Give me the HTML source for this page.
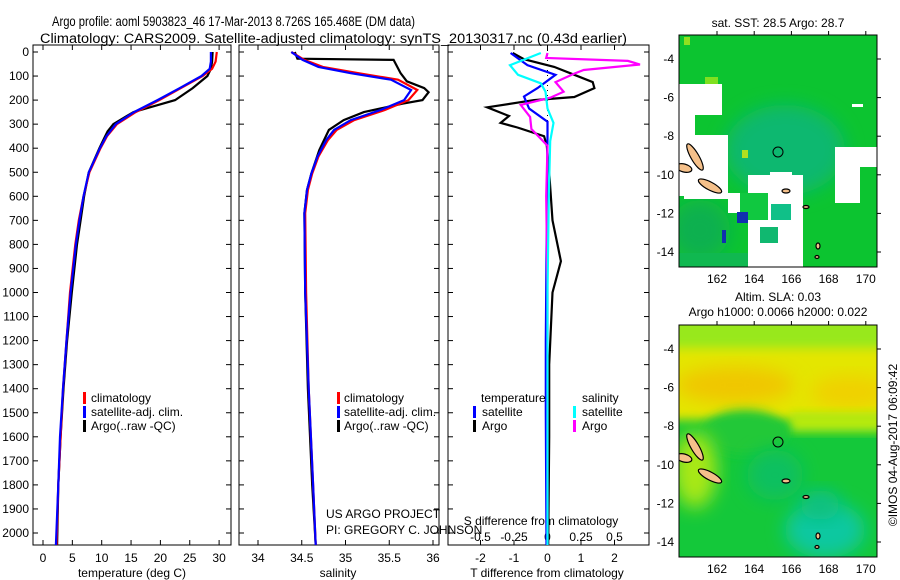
<!DOCTYPE html>
<html><head><meta charset="utf-8"><style>
body{margin:0;background:#fff}
svg{display:block;font-family:"Liberation Sans",sans-serif}
text{fill:#000}
</style></head><body>
<svg id="root" width="900" height="580" viewBox="0 0 900 580" xmlns="http://www.w3.org/2000/svg">
<defs>
<filter id="blr" x="-30%" y="-30%" width="160%" height="160%"><feGaussianBlur stdDeviation="9"/></filter>
<filter id="blr2" x="-30%" y="-30%" width="160%" height="160%"><feGaussianBlur stdDeviation="5"/></filter>
<clipPath id="c1"><rect x="679" y="35" width="198" height="232"/></clipPath>
<clipPath id="c2"><rect x="679" y="325" width="198" height="232"/></clipPath>
<clipPath id="p1"><rect x="33" y="45" width="198" height="500"/></clipPath>
<clipPath id="p2"><rect x="239" y="45" width="200" height="500"/></clipPath>
<clipPath id="p3"><rect x="448" y="45" width="201" height="500"/></clipPath>
</defs>
<text x="52" y="26" font-size="13.5" textLength="363" lengthAdjust="spacingAndGlyphs">Argo profile: aoml 5903823_46 17-Mar-2013 8.726S 165.468E (DM data)</text>
<text x="40" y="43" font-size="13.5" textLength="587" lengthAdjust="spacingAndGlyphs">Climatology: CARS2009. Satellite-adjusted climatology: synTS_20130317.nc (0.43d earlier)</text>

<g id="panels"></g>

<!-- SST map -->
<g>
<text x="778" y="27" font-size="12" text-anchor="middle">sat. SST: 28.5 Argo: 28.7</text>
<g clip-path="url(#c1)">
<rect x="679" y="35" width="198" height="232" fill="#0cc430"/>
<ellipse cx="785" cy="150" rx="60" ry="45" fill="#10b870" filter="url(#blr)"/>
<ellipse cx="700" cy="230" rx="30" ry="30" fill="#10b050" filter="url(#blr)"/>
<rect x="684" y="37" width="6" height="8" fill="#90e020"/>
<rect x="705" y="77" width="13" height="10" fill="#80e020"/>
<rect x="742" y="150" width="6" height="8" fill="#b0e020"/>
<g fill="#ffffff">
<rect x="679" y="84" width="16" height="112"/>
<rect x="695" y="84" width="27" height="31"/>
<rect x="679" y="135" width="49" height="60"/>
<rect x="684" y="193" width="45" height="6"/>
<rect x="728" y="193" width="12" height="20"/>
<rect x="748" y="175" width="55" height="92"/>
<rect x="770" y="172" width="22" height="6"/>
<rect x="835" y="147" width="25" height="56"/>
<rect x="848" y="147" width="29" height="20"/>
<rect x="852" y="104" width="11" height="3"/>
</g>
<rect x="740" y="193" width="28" height="27" fill="#10c840"/>
<rect x="771" y="204" width="20" height="16" fill="#10c088"/>
<rect x="760" y="227" width="18" height="16" fill="#10b870"/>
<rect x="679" y="253" width="69" height="14" fill="#10b850"/>
<rect x="737" y="212" width="11" height="11" fill="#1030b0"/>
<rect x="722" y="230" width="4" height="13" fill="#1030b0"/>
<g fill="#f5c08a" stroke="#000" stroke-width="1.2">
<ellipse cx="695" cy="157" rx="4" ry="15" transform="rotate(-30 695 157)"/>
<ellipse cx="684" cy="168" rx="8" ry="4" transform="rotate(15 684 168)"/>
<ellipse cx="710" cy="186" rx="13" ry="4" transform="rotate(28 710 186)"/>
<ellipse cx="786" cy="191" rx="4" ry="2"/><ellipse cx="806" cy="207" rx="3" ry="1.5"/><ellipse cx="818" cy="246" rx="2" ry="3"/><ellipse cx="817" cy="257" rx="2" ry="1.5"/>
</g>
<circle cx="778" cy="152" r="5" fill="none" stroke="#000" stroke-width="1"/>
</g>
<rect x="679" y="35" width="198" height="232" fill="none" stroke="#000" stroke-width="1"/>
<g id="m1ticks"></g>
</g>

<!-- SLA map -->
<g>
<text x="778" y="301" font-size="12" text-anchor="middle">Altim. SLA: 0.03</text>
<text x="778" y="316" font-size="12" text-anchor="middle">Argo h1000: 0.0066 h2000: 0.022</text>
<g clip-path="url(#c2)">
<rect x="679" y="325" width="198" height="232" fill="#14c83a"/>
<rect x="660" y="315" width="240" height="45" fill="#98e81a" filter="url(#blr2)"/>
<rect x="660" y="348" width="240" height="72" fill="#e4e600" filter="url(#blr2)"/>
<ellipse cx="735" cy="385" rx="60" ry="18" fill="#f0c600" filter="url(#blr)"/>
<ellipse cx="850" cy="392" rx="40" ry="16" fill="#f0d000" filter="url(#blr)"/>
<rect x="790" y="412" width="100" height="20" fill="#b8ea10" filter="url(#blr2)"/>
<ellipse cx="745" cy="432" rx="42" ry="22" fill="#20c838" filter="url(#blr2)"/>
<ellipse cx="695" cy="470" rx="22" ry="38" fill="#a8e818" filter="url(#blr)"/>
<ellipse cx="775" cy="475" rx="28" ry="25" fill="#10c060" filter="url(#blr)"/>
<ellipse cx="825" cy="530" rx="40" ry="28" fill="#10c8a0" filter="url(#blr)"/>
<ellipse cx="820" cy="505" rx="20" ry="15" fill="#10c080" filter="url(#blr)"/>
<g fill="#f5c08a" stroke="#000" stroke-width="1.2">
<ellipse cx="695" cy="447" rx="4" ry="15" transform="rotate(-30 695 447)"/>
<ellipse cx="684" cy="458" rx="8" ry="4" transform="rotate(15 684 458)"/>
<ellipse cx="710" cy="476" rx="13" ry="4" transform="rotate(28 710 476)"/>
<ellipse cx="786" cy="481" rx="4" ry="2"/><ellipse cx="806" cy="497" rx="3" ry="1.5"/><ellipse cx="818" cy="536" rx="2" ry="3"/><ellipse cx="817" cy="547" rx="2" ry="1.5"/>
</g>
<circle cx="778" cy="442" r="5" fill="none" stroke="#000" stroke-width="1"/>
</g>
<rect x="679" y="325" width="198" height="232" fill="none" stroke="#000" stroke-width="1"/>
<g id="m2ticks"></g>
</g>
<text transform="translate(897,445) rotate(-90)" font-size="12" text-anchor="middle">©IMOS 04-Aug-2017 06:09:42</text>
</svg>
<script>
// ---- data ----
const tempDepth = [0,40,70,100,150,200,250,300,350,400,500,600,700,800,1000,1200,1400,1600,1800,2050];
const tempClim  = [29.6,29.4,28.8,27.2,23.5,19.8,15.8,12.6,10.9,9.8,7.9,6.9,6.1,5.5,4.6,4.0,3.4,3.0,2.6,2.3];
const tempSat   = [28.6,28.6,28.4,27.0,23.3,19.5,15.5,12.4,10.8,9.7,7.8,6.9,6.2,5.6,4.7,4.0,3.4,2.9,2.6,2.2];
const argoDepth = [0,40,70,100,150,200,250,300,330,360,400,500,600,700,800,1000,1200,1400,1600,1800,2050];
const tempArgo  = [28.9,28.8,28.6,28.0,25.5,22.5,15.4,12.0,11.0,10.4,9.6,7.8,7.0,6.4,5.8,4.9,4.1,3.5,3.0,2.6,2.4];

const salDepth = [0,33,62,88,115,158,200,241,283,324,366,435,505,574,670,1000,1400,1800,2050];
const salClim  = [34.38,34.53,34.74,35.15,35.6,35.82,35.72,35.45,35.1,34.9,34.8,34.69,34.62,34.57,34.54,34.55,34.58,34.63,34.66];
const salSat   = [34.38,34.51,34.69,35.06,35.52,35.75,35.67,35.4,35.06,34.87,34.78,34.68,34.61,34.56,34.53,34.54,34.58,34.63,34.66];
const salArgoD = [0,28,33,88,122,150,167,200,215,250,283,324,408,505,574,670,1000,1400,1800,2050];
const salArgo  = [34.42,34.45,35.55,35.63,35.7,35.9,35.95,35.88,35.65,35.21,34.98,34.81,34.7,34.61,34.56,34.53,34.54,34.57,34.62,34.66];

const dTDepth = [4,30,62,95,125,150,187,200,230,266,295,314,350,390,500,700,870,1000,1300,1600,2050];
const dTArgo  = [-1.04,-0.7,0.2,0.8,1.35,1.4,0.8,-0.4,-1.8,-1.15,-1.4,-0.9,-0.1,-0.02,0.05,0.15,0.4,0.15,0.05,0.05,0.02];
const dTSatD  = [4,55,95,150,185,235,290,350,700,1200,1500,2050];
const dTSat   = [-1.1,-0.6,0.24,-0.3,-0.7,-0.55,0.0,0.0,-0.02,-0.05,-0.05,-0.03];
const dSSatD  = [4,55,95,130,165,235,295,370,600,1000,2050];
const dSSat   = [-0.05,-0.28,-0.22,-0.05,-0.015,0.0,0.045,0.02,0.01,0.0,0.0];
const dSArgoD = [4,25,37,52,75,90,125,165,190,220,270,320,390,600,1000,2050];
const dSArgo  = [0.0,-0.01,0.6,0.69,0.27,0.2,0.06,0.12,0.02,-0.2,-0.13,-0.12,0.0,-0.01,0.0,0.0];

const depthTicks = [0,100,200,300,400,500,600,700,800,900,1000,1100,1200,1300,1400,1500,1600,1700,1800,1900,2000];
const tempTicks = [0,5,10,15,20,25,30];
const salTicks = [34,34.5,35,35.5,36];
const dTTicks = [-2,-1,0,1,2];
const dSTicks = [-0.5,-0.25,0,0.25,0.5];
const lonTicks = [162,164,166,168,170];
const latTicks = [-4,-6,-8,-10,-12,-14];

// ---- scales ----
const NS='http://www.w3.org/2000/svg';
const yD = d => 52 + d*0.2405;
const xT = t => 43 + t*5.87;
const xS = s => 258 + (s-34)*87.5;
const xDT = v => 547.5 + v*33.5;
const xDS = v => 547.5 + v*134;
const lonX = l => 717 + (l-162)*18.6;
const latY = (l,off) => 59 + off + (-4-l)*19.3;

function el(tag, attrs, parent){const e=document.createElementNS(NS,tag);for(const k in attrs)e.setAttribute(k,attrs[k]);parent.appendChild(e);return e;}
const root=document.getElementById('panels');

function series(xs, ds, xf, color, name, clip, w){
  const d = xs.map((v,i)=>(i?'L':'M')+xf(v).toFixed(1)+','+yD(ds[i]).toFixed(1)).join('');
  const p=el('path',{d:d,fill:'none',stroke:color,'stroke-width':w||2.2,'clip-path':'url(#'+clip+')'},root);
  
  
}
function txt(x,y,s,size,anchor,name){
  const t=el('text',{x:x,y:y,'font-size':size,'text-anchor':anchor||'start'},root);t.textContent=s;
  
  
  return t;
}
function frame(x0,x1,name){
  const r=el('rect',{x:x0,y:45,width:x1-x0,height:500,fill:'none',stroke:'#000','stroke-width':1},root);
  
  
  depthTicks.forEach(d=>{
    el('line',{x1:x0,x2:x0+5,y1:yD(d),y2:yD(d),stroke:'#000'},root);
    el('line',{x1:x1-5,x2:x1,y1:yD(d),y2:yD(d),stroke:'#000'},root);
  });
}
function xticks(vals,xf,labY,name){
  vals.forEach(v=>{
    el('line',{x1:xf(v),x2:xf(v),y1:45,y2:50,stroke:'#000'},root);
    el('line',{x1:xf(v),x2:xf(v),y1:540,y2:545,stroke:'#000'},root);
    txt(xf(v),labY,String(v),12,'middle',name);
  });
}
function legMark(x,y,color,name){
  const r=el('rect',{x:x,y:y-10,width:3,height:12,fill:color},root);
  
  
}

// Panel 1 temperature
frame(33,231,'temperature-panel');
depthTicks.forEach(d=>txt(29,yD(d)+4,String(d),12,'end','depth-tick-label'));
xticks(tempTicks,xT,562,'temperature-tick-label');
txt(132,577,'temperature (deg C)',12,'middle','temperature-axis-title');
series(tempArgo,argoDepth,xT,'#000','temp-argo-line','p1');
series(tempClim,tempDepth,xT,'#f00','temp-climatology-line','p1');
series(tempSat,tempDepth,xT,'#00f','temp-satellite-line','p1');
legMark(83,402,'#f00','legend-climatology-mark'); txt(91,402,'climatology',12,'start','legend-climatology');
legMark(83,416,'#00f','legend-satellite-mark'); txt(91,416,'satellite-adj. clim.',12,'start','legend-satellite');
legMark(83,430,'#000','legend-argo-mark'); txt(91,430,'Argo(..raw -QC)',12,'start','legend-argo');

// Panel 2 salinity
frame(239,439,'salinity-panel');
xticks(salTicks,xS,562,'salinity-tick-label');
txt(338,577,'salinity',12,'middle','salinity-axis-title');
series(salArgo,salArgoD,xS,'#000','sal-argo-line','p2');
series(salClim,salDepth,xS,'#f00','sal-climatology-line','p2');
series(salSat,salDepth,xS,'#00f','sal-satellite-line','p2');
legMark(337,402,'#f00','legend2-climatology-mark'); txt(344,402,'climatology',12,'start','legend2-climatology');
legMark(337,416,'#00f','legend2-satellite-mark'); txt(344,416,'satellite-adj. clim.',12,'start','legend2-satellite');
legMark(337,430,'#000','legend2-argo-mark'); txt(344,430,'Argo(..raw -QC)',12,'start','legend2-argo');
txt(326,518,'US ARGO PROJECT',12,'start','project-label');
txt(326,534,'PI: GREGORY C. JOHNSON',12,'start','pi-label');

// Panel 3 differences
frame(448,649,'difference-panel');
dTTicks.forEach(v=>{el('line',{x1:xDT(v),x2:xDT(v),y1:45,y2:50,stroke:'#000'},root);el('line',{x1:xDT(v),x2:xDT(v),y1:540,y2:545,stroke:'#000'},root);txt(xDT(v),562,String(v),12,'middle','t-diff-tick-label');});
dSTicks.forEach(v=>txt(xDS(v),541,String(v),12,'middle','s-diff-tick-label'));
txt(541,525,'S difference from climatology',12,'middle','s-diff-axis-title');
txt(547,577,'T difference from climatology',12,'middle','t-diff-axis-title');
el('line',{x1:547.5,x2:547.5,y1:45,y2:545,stroke:'#000','stroke-dasharray':'1 4'},root);
series(dTArgo,dTDepth,xDT,'#000','t-diff-argo-line','p3');
series(dTSat,dTSatD,xDT,'#00f','t-diff-satellite-line','p3');
series(dSArgo,dSArgoD,xDS,'#f0f','s-diff-argo-line','p3');
series(dSSat,dSSatD,xDS,'#0ff','s-diff-satellite-line','p3');
txt(481,402,'temperature',12,'start','legend3-temperature-heading');
txt(582,402,'salinity',12,'start','legend3-salinity-heading');
legMark(473,416,'#00f','legend3-t-satellite-mark'); txt(482,416,'satellite',12,'start','legend3-t-satellite');
legMark(473,430,'#000','legend3-t-argo-mark'); txt(482,430,'Argo',12,'start','legend3-t-argo');
legMark(573,416,'#0ff','legend3-s-satellite-mark'); txt(582,416,'satellite',12,'start','legend3-s-satellite');
legMark(573,430,'#f0f','legend3-s-argo-mark'); txt(582,430,'Argo',12,'start','legend3-s-argo');

// Map ticks
[[document.getElementById('m1ticks'),0,35,267],[document.getElementById('m2ticks'),290,325,557]].forEach(([g,off,top,bot])=>{
  lonTicks.forEach(l=>{
    el('line',{x1:lonX(l),x2:lonX(l),y1:top,y2:top-4,stroke:'#000'},g);
    const t=el('text',{x:lonX(l),y:bot+16,'font-size':12,'text-anchor':'middle'},g);t.textContent=String(l);
    
    
  });
  latTicks.forEach(l=>{
    el('line',{x1:877,x2:881,y1:latY(l,off),y2:latY(l,off),stroke:'#000'},g);
    const t=el('text',{x:674,y:latY(l,off)+4,'font-size':12,'text-anchor':'end'},g);t.textContent=String(l);
    
    
  });
});
</script>
</body></html>
